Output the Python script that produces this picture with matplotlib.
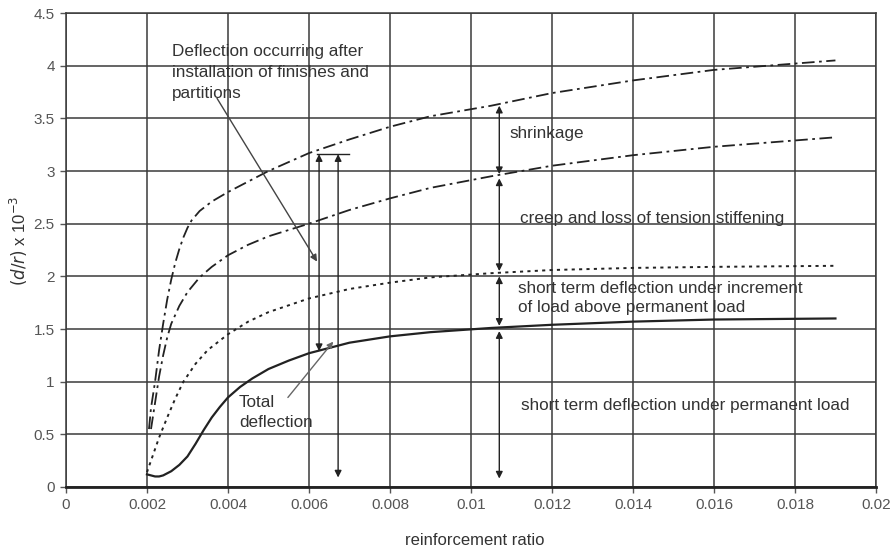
import matplotlib.pyplot as plt

plt.rcParams['font.family'] = ['Liberation Sans', 'DejaVu Sans']

# Courbes (taux d'armature, (d/r) x 10^-3)
x_shrink = [0.00205, 0.0021, 0.0022, 0.0023, 0.0024, 0.0025, 0.0026, 0.0027, 0.0028,
            0.0029, 0.003, 0.0031, 0.0033, 0.0036, 0.004, 0.0045, 0.005, 0.006,
            0.007, 0.008, 0.009, 0.0105, 0.012, 0.014, 0.016, 0.019]
y_shrink = [0.55, 0.75, 1.0, 1.3, 1.55, 1.78, 1.97, 2.13, 2.26,
            2.37, 2.46, 2.53, 2.62, 2.71, 2.8, 2.9, 3.0, 3.17,
            3.3, 3.42, 3.52, 3.62, 3.74, 3.86, 3.96, 4.05]

x_creep = [0.0021, 0.0022, 0.0023, 0.0024, 0.0025, 0.0026, 0.0028, 0.003, 0.0033,
           0.0036, 0.004, 0.0045, 0.005, 0.006, 0.007, 0.008, 0.009,
           0.0105, 0.012, 0.014, 0.016, 0.019]
y_creep = [0.55, 0.8, 1.05, 1.25, 1.42, 1.55, 1.72, 1.85, 1.99,
           2.09, 2.2, 2.3, 2.38, 2.5, 2.63, 2.74, 2.84,
           2.95, 3.05, 3.15, 3.23, 3.32]

x_short = [0.002, 0.0021, 0.0023, 0.0025, 0.0027, 0.0029, 0.0032, 0.0035, 0.004,
           0.0045, 0.005, 0.006, 0.007, 0.008, 0.009, 0.0105, 0.012, 0.014,
           0.016, 0.019]
y_short = [0.14, 0.25, 0.47, 0.66, 0.84, 1.0, 1.17, 1.3, 1.45,
           1.57, 1.66, 1.79, 1.88, 1.94, 1.99, 2.03, 2.06, 2.08,
           2.09, 2.1]

x_perm = [0.002, 0.0021, 0.0022, 0.0023, 0.0024, 0.0026, 0.0028, 0.003, 0.0032,
          0.0034, 0.0036, 0.0038, 0.004, 0.0043, 0.0046, 0.005, 0.0055, 0.006,
          0.007, 0.008, 0.009, 0.0105, 0.012, 0.014, 0.016, 0.019]
y_perm = [0.12, 0.11, 0.1, 0.1, 0.11, 0.15, 0.21, 0.29, 0.41,
          0.54, 0.66, 0.76, 0.85, 0.95, 1.03, 1.12, 1.2, 1.27,
          1.37, 1.43, 1.47, 1.51, 1.54, 1.57, 1.59, 1.6]

x_ticks = [0, 0.002, 0.004, 0.006, 0.008, 0.01, 0.012, 0.014, 0.016, 0.018, 0.02]
x_tick_labels = ['0', '0.002', '0.004', '0.006', '0.008', '0.01', '0.012', '0.014',
                 '0.016', '0.018', '0.02']
y_ticks = [0, 0.5, 1, 1.5, 2, 2.5, 3, 3.5, 4, 4.5]
y_tick_labels = ['0', '0.5', '1', '1.5', '2', '2.5', '3', '3.5', '4', '4.5']

# Flèches verticales à rho = 0.0107 : bornes entre les courbes
chain_x = 0.0107
chain_bounds = [(3.62, 2.97), (2.93, 2.05), (2.0, 1.53), (1.48, 0.08)]

ink = '#222222'

fig = plt.figure(figsize=(8.95, 5.47), dpi=100)
ax = fig.add_axes([0.0737, 0.1097, 0.905, 0.8665])

# Quadrillage
for xv in x_ticks:
    ax.axvline(xv, color='#3a3a3a', lw=1.1, zorder=1)
for yv in y_ticks:
    ax.axhline(yv, color='#3a3a3a', lw=1.1, zorder=1)

# Courbes
ax.plot(x_shrink, y_shrink, color=ink, lw=1.3, dashes=(7, 2.5, 1.5, 2.5), zorder=3)
ax.plot(x_creep, y_creep, color=ink, lw=1.3, dashes=(7, 2.5, 1.5, 2.5), zorder=3)
ax.plot(x_short, y_short, color=ink, lw=1.4, dashes=(1.6, 2.2), zorder=3)
ax.plot(x_perm, y_perm, color=ink, lw=1.6, zorder=3)

arrow_kw = dict(arrowstyle='<|-|>', mutation_scale=10, lw=1.0, color=ink,
                shrinkA=0, shrinkB=0)

# Chaîne de flèches à droite
for top, bottom in chain_bounds:
    ax.annotate('', xy=(chain_x, top), xytext=(chain_x, bottom), arrowprops=arrow_kw)

# Flèches à rho = 0.0063 et 0.0067
ax.annotate('', xy=(0.00625, 3.16), xytext=(0.00625, 1.29), arrowprops=arrow_kw)
ax.annotate('', xy=(0.00672, 3.16), xytext=(0.00672, 0.09), arrowprops=arrow_kw)
ax.plot([0.0062, 0.0070], [3.16, 3.16], color=ink, lw=1.0, zorder=4)

# Lignes de rappel
ax.annotate('', xy=(0.0062, 2.14), xytext=(0.00373, 3.69),
            arrowprops=dict(arrowstyle='-|>', mutation_scale=10, lw=1.0, color='#444444',
                            shrinkA=0, shrinkB=0))
ax.annotate('', xy=(0.0066, 1.38), xytext=(0.00548, 0.85),
            arrowprops=dict(arrowstyle='-|>', mutation_scale=9, lw=1.0, color='#666666',
                            shrinkA=0, shrinkB=0))

# Textes
txt_kw = dict(fontsize=12.3, color='#333333', va='center', ha='left', zorder=5)
ax.text(0.00262, 4.13, 'Deflection occurring after', **txt_kw)
ax.text(0.00262, 3.94, 'installation of finishes and', **txt_kw)
ax.text(0.00262, 3.74, 'partitions', **txt_kw)
ax.text(0.00427, 0.80, 'Total', **txt_kw)
ax.text(0.00427, 0.61, 'deflection', **txt_kw)
ax.text(0.01096, 3.36, 'shrinkage', **txt_kw)
ax.text(0.01121, 2.55, 'creep and loss of tension stiffening', **txt_kw)
ax.text(0.01116, 1.88, 'short term deflection under increment', **txt_kw)
ax.text(0.01116, 1.70, 'of load above permanent load', **txt_kw)
ax.text(0.01123, 0.77, 'short term deflection under permanent load', **txt_kw)

ax.set_xlim(0, 0.02)
ax.set_ylim(0, 4.5)
ax.set_xticks(x_ticks)
ax.set_xticklabels(x_tick_labels)
ax.set_yticks(y_ticks)
ax.set_yticklabels(y_tick_labels)
ax.tick_params(axis='both', direction='out', length=4, width=1, color='#555555',
               labelsize=11, labelcolor='#555555', pad=4)

for side in ['top', 'right', 'left']:
    ax.spines[side].set_color('#3a3a3a')
    ax.spines[side].set_linewidth(1.1)
ax.spines['bottom'].set_color(ink)
ax.spines['bottom'].set_linewidth(2.0)

ax.set_xlabel('reinforcement ratio', fontsize=12, color='#333333')
ax.xaxis.set_label_coords(0.505, -0.112)
ax.xaxis.label.set_va('center')
ax.set_ylabel(r'$(d/r)$ x 10$^{-3}$', fontsize=12, color='#333333')
ax.yaxis.set_label_coords(-0.058, 0.52)
ax.yaxis.label.set_va('center')

fig.savefig('out.png', dpi=100)
